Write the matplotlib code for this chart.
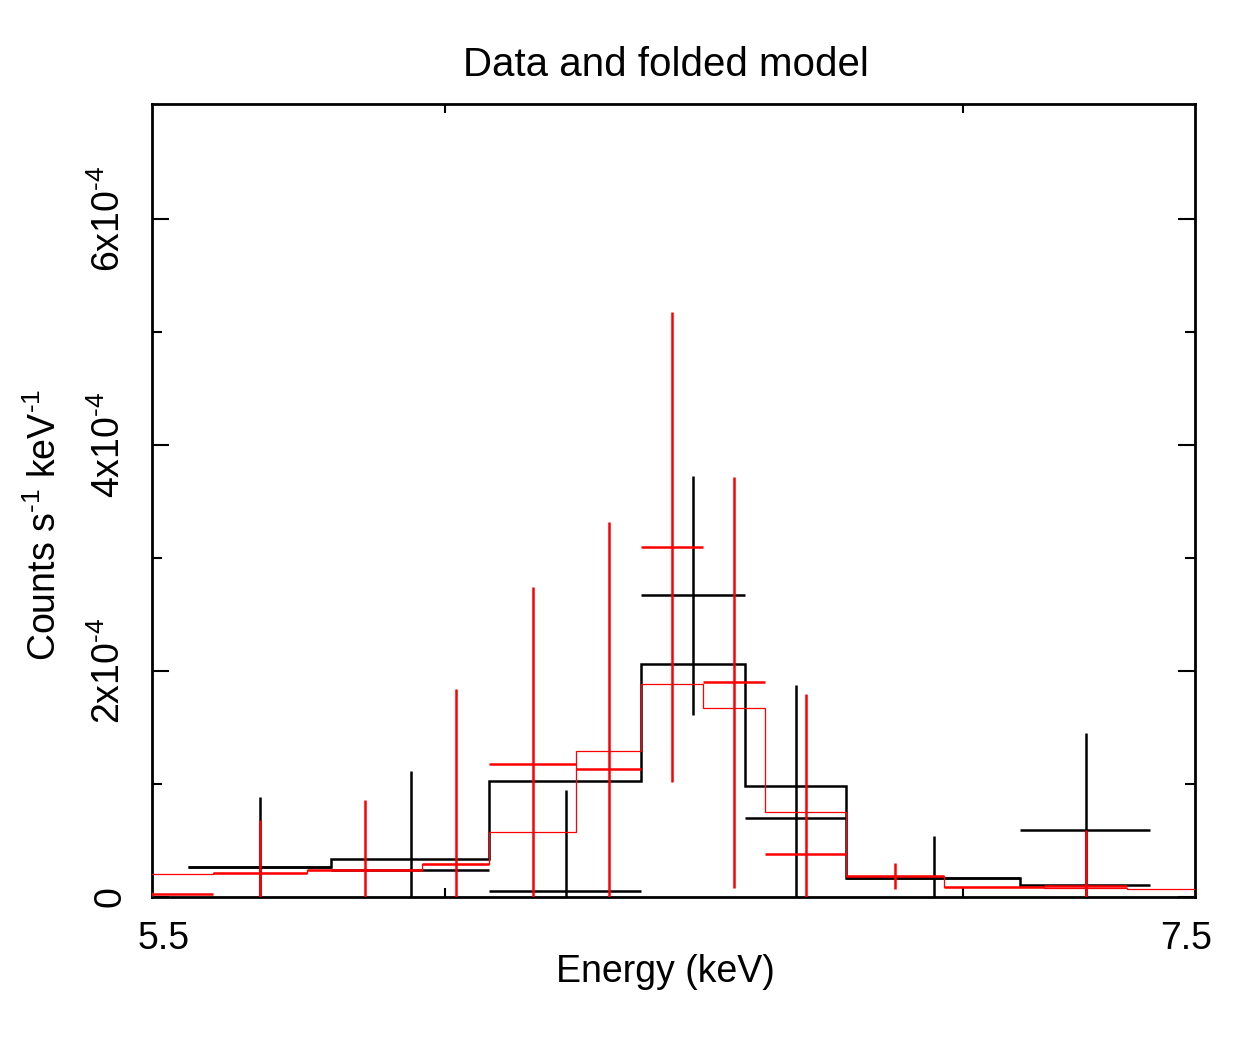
import numpy as np
import matplotlib.pyplot as plt
from matplotlib.ticker import FixedLocator, NullFormatter
from matplotlib.transforms import ScaledTranslation

# 字体
plt.rcParams['font.family'] = ['Liberation Sans', 'DejaVu Sans']
plt.rcParams['mathtext.fontset'] = 'custom'
plt.rcParams['mathtext.rm'] = 'Liberation Sans'

# 黑色数据组 (bin 边界 keV, 计数率, 误差, 折叠模型)
bk_edges = [5.56, 5.80, 6.08, 6.36, 6.56, 6.76, 7.12, 7.40]
bk_rate = [2.65e-5, 2.39e-5, 5.3e-6, 2.67e-4, 7.0e-5, 1.68e-5, 5.93e-5]
bk_err = [6.2e-5, 8.76e-5, 8.94e-5, 1.06e-4, 1.18e-4, 3.7e-5, 8.6e-5]
bk_model = [2.65e-5, 3.36e-5, 1.03e-4, 2.06e-4, 9.8e-5, 1.68e-5, 1.02e-5]

# 红色数据组
rd_edges = [5.40, 5.60, 5.76, 5.96, 6.08, 6.24, 6.36, 6.48, 6.60, 6.76, 6.96, 7.17, 7.35, 7.60]
rd_rate = [2.7e-6, 2.1e-5, 2.4e-5, 2.9e-5, 1.18e-4, 1.13e-4, 3.10e-4, 1.90e-4, 3.8e-5, 1.86e-5, 8.8e-6, 9.7e-6]
rd_err = [2.0e-6, 4.7e-5, 6.2e-5, 1.55e-4, 1.56e-4, 2.19e-4, 2.08e-4, 1.82e-4, 1.42e-4, 1.15e-5, 0.0, 4.96e-5]
rd_model = [2.0e-5, 2.1e-5, 2.35e-5, 2.9e-5, 5.75e-5, 1.29e-4, 1.89e-4, 1.67e-4, 7.5e-5, 1.86e-5, 8.8e-6, 8.0e-6, 7.5e-6]

x_ticks = [5.5, 7.5]
x_labels = ['5.5', '7.5']
x_minor = [6.0, 7.0]
y_ticks = [0, 2e-4, 4e-4, 6e-4]
y_labels = ['0', '2x10$^{\\mathregular{\\text{-}4}}$', '4x10$^{\\mathregular{\\text{-}4}}$',
            '6x10$^{\\mathregular{\\text{-}4}}$']
y_minor = [1e-4, 3e-4, 5e-4]


def draw_cross(ax, edges, rate, err, color, z):
    edges = np.array(edges)
    n = len(rate)
    lo = edges[:n]
    hi = edges[1:n + 1]
    mid = (lo + hi) / 2
    rate = np.array(rate)
    err = np.array(err)
    ax.hlines(rate, lo, hi, colors=color, lw=1.8, zorder=z)
    ax.vlines(mid, rate - err, rate + err, colors=color, lw=1.8, zorder=z)


fig = plt.figure(figsize=(12.4, 10.56), dpi=100)
ax = fig.add_axes([152 / 1240, 1 - 897 / 1056, (1195 - 152) / 1240, (897 - 104) / 1056])

draw_cross(ax, bk_edges, bk_rate, bk_err, 'black', 2)
ax.stairs(bk_model, bk_edges, baseline=None, color='black', lw=1.8, zorder=3)
draw_cross(ax, rd_edges, rd_rate, rd_err, 'red', 4)
ax.stairs(rd_model, rd_edges, baseline=None, color='red', lw=0.9, zorder=5)

ax.set_xscale('log')
ax.set_xlim(5.5, 7.5)
ax.set_ylim(0, 7.02e-4)

ax.xaxis.set_major_locator(FixedLocator(x_ticks))
ax.set_xticklabels(x_labels)
ax.xaxis.set_minor_locator(FixedLocator(x_minor))
ax.xaxis.set_minor_formatter(NullFormatter())
ax.set_yticks(y_ticks)
ax.set_yticklabels(y_labels, rotation=90, va='center')
ax.yaxis.set_minor_locator(FixedLocator(y_minor))

ax.tick_params(which='both', direction='in', top=True, right=True, width=1.5, labelsize=27)
ax.tick_params(axis='y', which='major', length=12, pad=17)
ax.tick_params(axis='y', which='minor', length=7)
ax.tick_params(axis='x', which='major', length=0, pad=17)
ax.tick_params(axis='x', which='minor', length=6.5)
for s in ax.spines.values():
    s.set_linewidth(2)

# 端点刻度标签稍向内移
for lab, dx in zip(ax.get_xticklabels(), [0.12, -0.09]):
    lab.set_transform(lab.get_transform() + ScaledTranslation(dx, 0, fig.dpi_scale_trans))

fig.text(666 / 1240, 1 - 76 / 1056, 'Data and folded model', fontsize=29, ha='center', va='baseline')
fig.text(665 / 1240, 1 - 972 / 1056, 'Energy (keV)', fontsize=27, ha='center', va='center')
fig.text(45 / 1240, 1 - 525 / 1056, 'Counts s$^{\\mathregular{\\text{-}1}}$ keV$^{\\mathregular{\\text{-}1}}$',
         fontsize=27, rotation=90, ha='center', va='center')

fig.savefig('out.png', dpi=100)
